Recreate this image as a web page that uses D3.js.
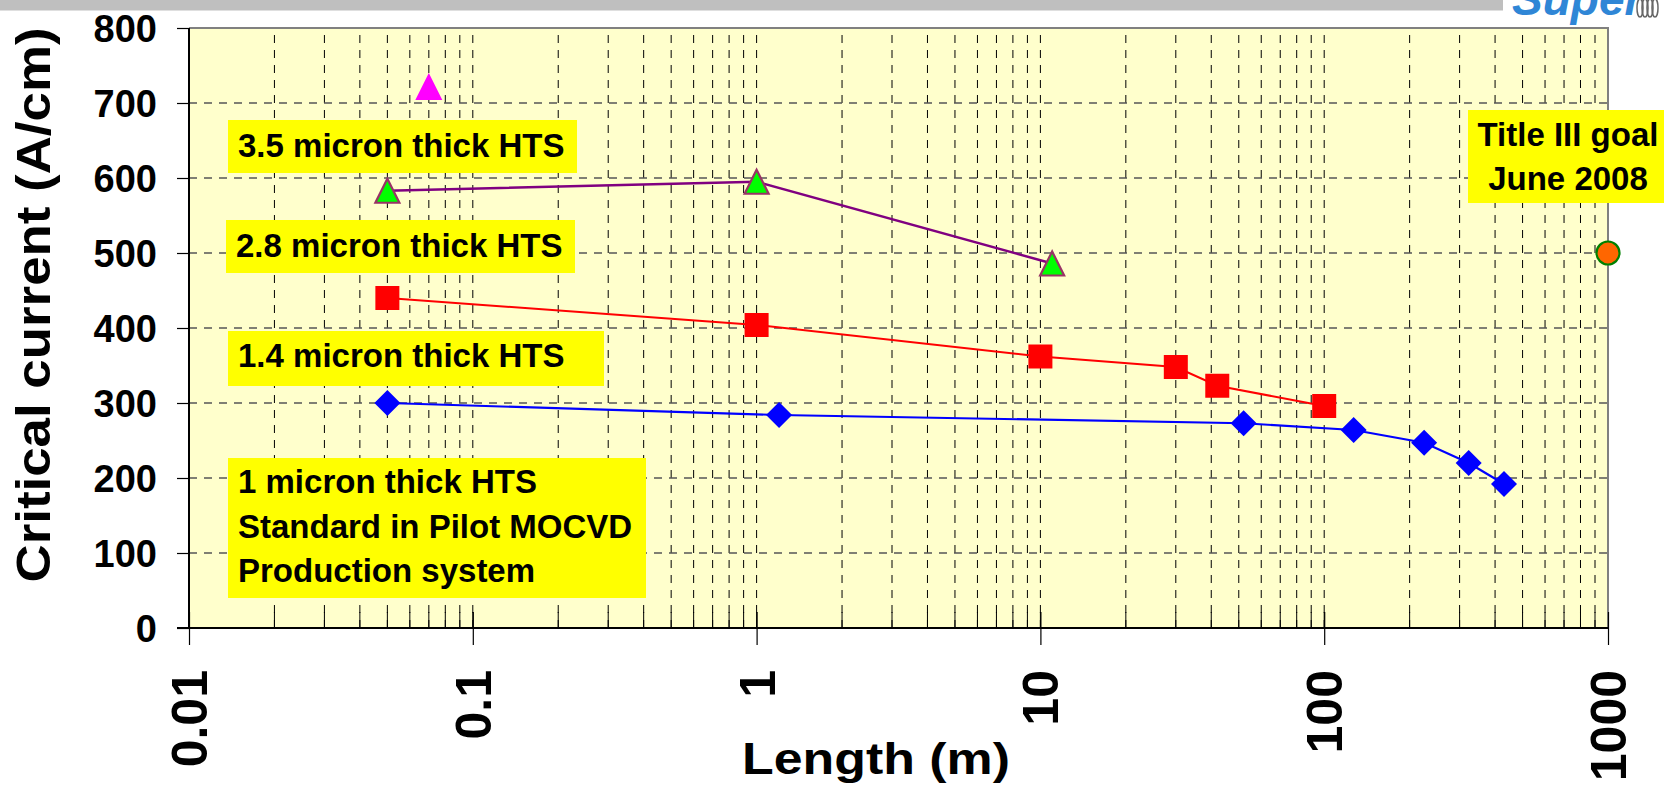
<!DOCTYPE html>
<html><head><meta charset="utf-8">
<script src="https://cdn.jsdelivr.net/npm/d3@7"></script>
<style>
body{margin:0;background:#fff;overflow:hidden;}
svg{display:block;}
text{font-family:"Liberation Sans",Arial,sans-serif;font-weight:bold;fill:#000;}
</style>
</head><body>
<svg id="c" width="1664" height="791"></svg>
<script>
// ---- data ----
const oneMicronLen = [0.05, 1.2, 52, 127, 225, 323, 430];
const oneMicronIc  = [300, 284, 273, 264, 247, 220, 192];
const onePointFourLen = [0.05, 1, 10, 30, 42, 100];
const onePointFourIc  = [440, 404, 362, 348, 323, 296];
const twoPointEightLen = [0.05, 1, 11];
const twoPointEightIc  = [583, 595, 486];
const threePointFiveLen = [0.07];
const threePointFiveIc  = [722];
const goalLen = [1000];
const goalIc  = [500];
const xTickValues = [0.01, 0.1, 1, 10, 100, 1000];
const xTickLabels = ["0.01", "0.1", "1", "10", "100", "1000"];
const yTickValues = [0, 100, 200, 300, 400, 500, 600, 700, 800];
const xTitle = "Length (m)";
const yTitle = "Critical current (A/cm)";
const labelLines = [
  ["3.5 micron thick HTS"],
  ["2.8 micron thick HTS"],
  ["1.4 micron thick HTS"],
  ["1 micron thick HTS", "Standard in Pilot MOCVD", "Production system"],
  ["Title III goal", "June 2008"]
];

// ---- layout ----
const L = 189, R = 1608, T = 28, B = 628;
const svg = d3.select("#c");
const x = d3.scaleLog().domain([0.01, 1000]).range([L, R]);
const y = d3.scaleLinear().domain([0, 800]).range([B, T]);

// header bar & logo
svg.append("rect").attr("x",0).attr("y",0).attr("width",1503).attr("height",10.5).attr("fill","#bfbfbf");
svg.append("text").attr("x",1512).attr("y",15).text("Super")
  .style("font-size","46px").style("font-style","italic").style("fill","#2f86d6");
const coil = svg.append("g").attr("transform","translate(1640,6)");
[0,5,10,15].forEach(o=>coil.append("ellipse").attr("cx",o).attr("cy",2).attr("rx",3).attr("ry",9)
  .attr("fill","none").attr("stroke","#666").attr("stroke-width",1.5));

// plot background
svg.append("rect").attr("x",L).attr("y",T).attr("width",R-L).attr("height",B-T).attr("fill","#ffffcc");

// grid lines
const minor = [];
for (let e=-2; e<3; e++) for (let k=1; k<10; k++) minor.push(k*Math.pow(10,e));
const vgrid = minor.filter(v=>v>0.011);
svg.append("g").selectAll("line").data(vgrid).join("line")
  .attr("x1",d=>x(d)).attr("x2",d=>x(d)).attr("y1",B).attr("y2",T)
  .attr("stroke","#000").attr("stroke-width",1).attr("stroke-dasharray","8,7");
svg.append("g").selectAll("line").data(yTickValues.filter(v=>v>0 && v<800)).join("line")
  .attr("x1",L).attr("x2",R).attr("y1",d=>y(d)).attr("y2",d=>y(d))
  .attr("stroke","#555").attr("stroke-width",1.5).attr("stroke-dasharray","8,7");
// inside minor ticks
svg.append("g").selectAll("line").data(vgrid).join("line")
  .attr("x1",d=>x(d)).attr("x2",d=>x(d)).attr("y1",B).attr("y2",B-16)
  .attr("stroke","#000").attr("stroke-width",1);

// plot frame top/right
svg.append("path").attr("d",`M${L},${T}H${R}V${B}`).attr("fill","none").attr("stroke","#808080").attr("stroke-width",2);

// label boxes
const boxes = [
  {x:228, y:120, w:349, h:53, tx:238, base:[157], anchor:"start"},
  {x:226, y:220, w:349, h:53, tx:236, base:[257], anchor:"start"},
  {x:228, y:331, w:376, h:55, tx:238, base:[367], anchor:"start"},
  {x:228, y:458, w:418, h:140, tx:238, base:[493, 538, 582], anchor:"start"},
  {x:1468, y:110, w:196, h:93, tx:1568, base:[146, 190], anchor:"middle"}
];
boxes.forEach((b,i)=>{
  svg.append("rect").attr("x",b.x).attr("y",b.y).attr("width",b.w).attr("height",b.h).attr("fill","#ffff00");
  labelLines[i].forEach((t,j)=>{
    svg.append("text").attr("x",b.tx).attr("y",b.base[j]).attr("text-anchor",b.anchor)
      .style("font-size","33px").text(t);
  });
});

// series
const line = d3.line().x(d=>x(d[0])).y(d=>y(d[1]));
const zip = (a,b)=>a.map((v,i)=>[v,b[i]]);
const s1 = zip(oneMicronLen, oneMicronIc);
const s14 = zip(onePointFourLen, onePointFourIc);
const s28 = zip(twoPointEightLen, twoPointEightIc);
const s35 = zip(threePointFiveLen, threePointFiveIc);
const sg = zip(goalLen, goalIc);

svg.append("path").datum(s14).attr("d",line).attr("fill","none").attr("stroke","#ff0000").attr("stroke-width",2);
svg.append("path").datum(s1).attr("d",line).attr("fill","none").attr("stroke","#0000ff").attr("stroke-width",2.2);
svg.append("path").datum(s28).attr("d",line).attr("fill","none").attr("stroke","#800080").attr("stroke-width",2.5);

// markers
svg.append("g").selectAll("rect").data(s14).join("rect")
  .attr("x",d=>x(d[0])-12).attr("y",d=>y(d[1])-12).attr("width",24).attr("height",24).attr("fill","#ff0000");
svg.append("g").selectAll("path").data(s1).join("path")
  .attr("d","M0,-13L13,0L0,13L-13,0Z").attr("transform",d=>`translate(${x(d[0])},${y(d[1])})`).attr("fill","#0000ff");
const tri = s=>`M0,${-s/2}L${s/2},${s/2}L${-s/2},${s/2}Z`;
svg.append("g").selectAll("path").data(s28).join("path")
  .attr("d",tri(24)).attr("transform",d=>`translate(${x(d[0])},${y(d[1])})`)
  .attr("fill","#00ff00").attr("stroke","#993366").attr("stroke-width",2.2).attr("stroke-linejoin","miter");
svg.append("g").selectAll("path").data(s35).join("path")
  .attr("d",tri(27)).attr("transform",d=>`translate(${x(d[0])},${y(d[1])})`).attr("fill","#ff00ff");

// axes
const yAxis = d3.axisLeft(y).tickValues(yTickValues).tickSize(12).tickPadding(20).tickFormat(d3.format("d"));
const gy = svg.append("g").attr("transform",`translate(${L},0)`).call(yAxis);
gy.select(".domain").attr("stroke","#000").attr("stroke-width",2).attr("d",`M0,${B}V${T}`);
gy.selectAll(".tick line").attr("stroke","#000").attr("stroke-width",1.2);
gy.selectAll(".tick text").attr("font-family",null).style("font-size","38px").attr("dy","0.36em");

const xAxis = d3.axisBottom(x).tickValues(xTickValues).tickSize(17).tickFormat((d,i)=>xTickLabels[i]);
const gx = svg.append("g").attr("transform",`translate(0,${B})`).call(xAxis);
gx.select(".domain").attr("stroke","#000").attr("stroke-width",2).attr("d",`M${L-12},0H${R}`);
gx.selectAll(".tick line").attr("stroke","#000").attr("stroke-width",1.2).attr("y1",-16);
gx.selectAll(".tick text").attr("font-family",null).style("font-size","50px")
  .attr("transform","rotate(-90)").attr("x",-42).attr("y",0).attr("dy","0.35em").style("text-anchor","end");

// goal marker drawn over frame
svg.append("g").selectAll("circle").data(sg).join("circle")
  .attr("cx",d=>x(d[0])).attr("cy",d=>y(d[1])).attr("r",11.5)
  .attr("fill","#ff6600").attr("stroke","#008000").attr("stroke-width",2.2);

// axis titles
svg.append("text").attr("x",876).attr("y",774).attr("text-anchor","middle")
  .style("font-size","44px").attr("textLength",268).attr("lengthAdjust","spacingAndGlyphs").text(xTitle);
svg.append("text").attr("transform","translate(50,305) rotate(-90)").attr("text-anchor","middle")
  .style("font-size","48px").attr("textLength",555).attr("lengthAdjust","spacingAndGlyphs").text(yTitle);
</script>
</body></html>
